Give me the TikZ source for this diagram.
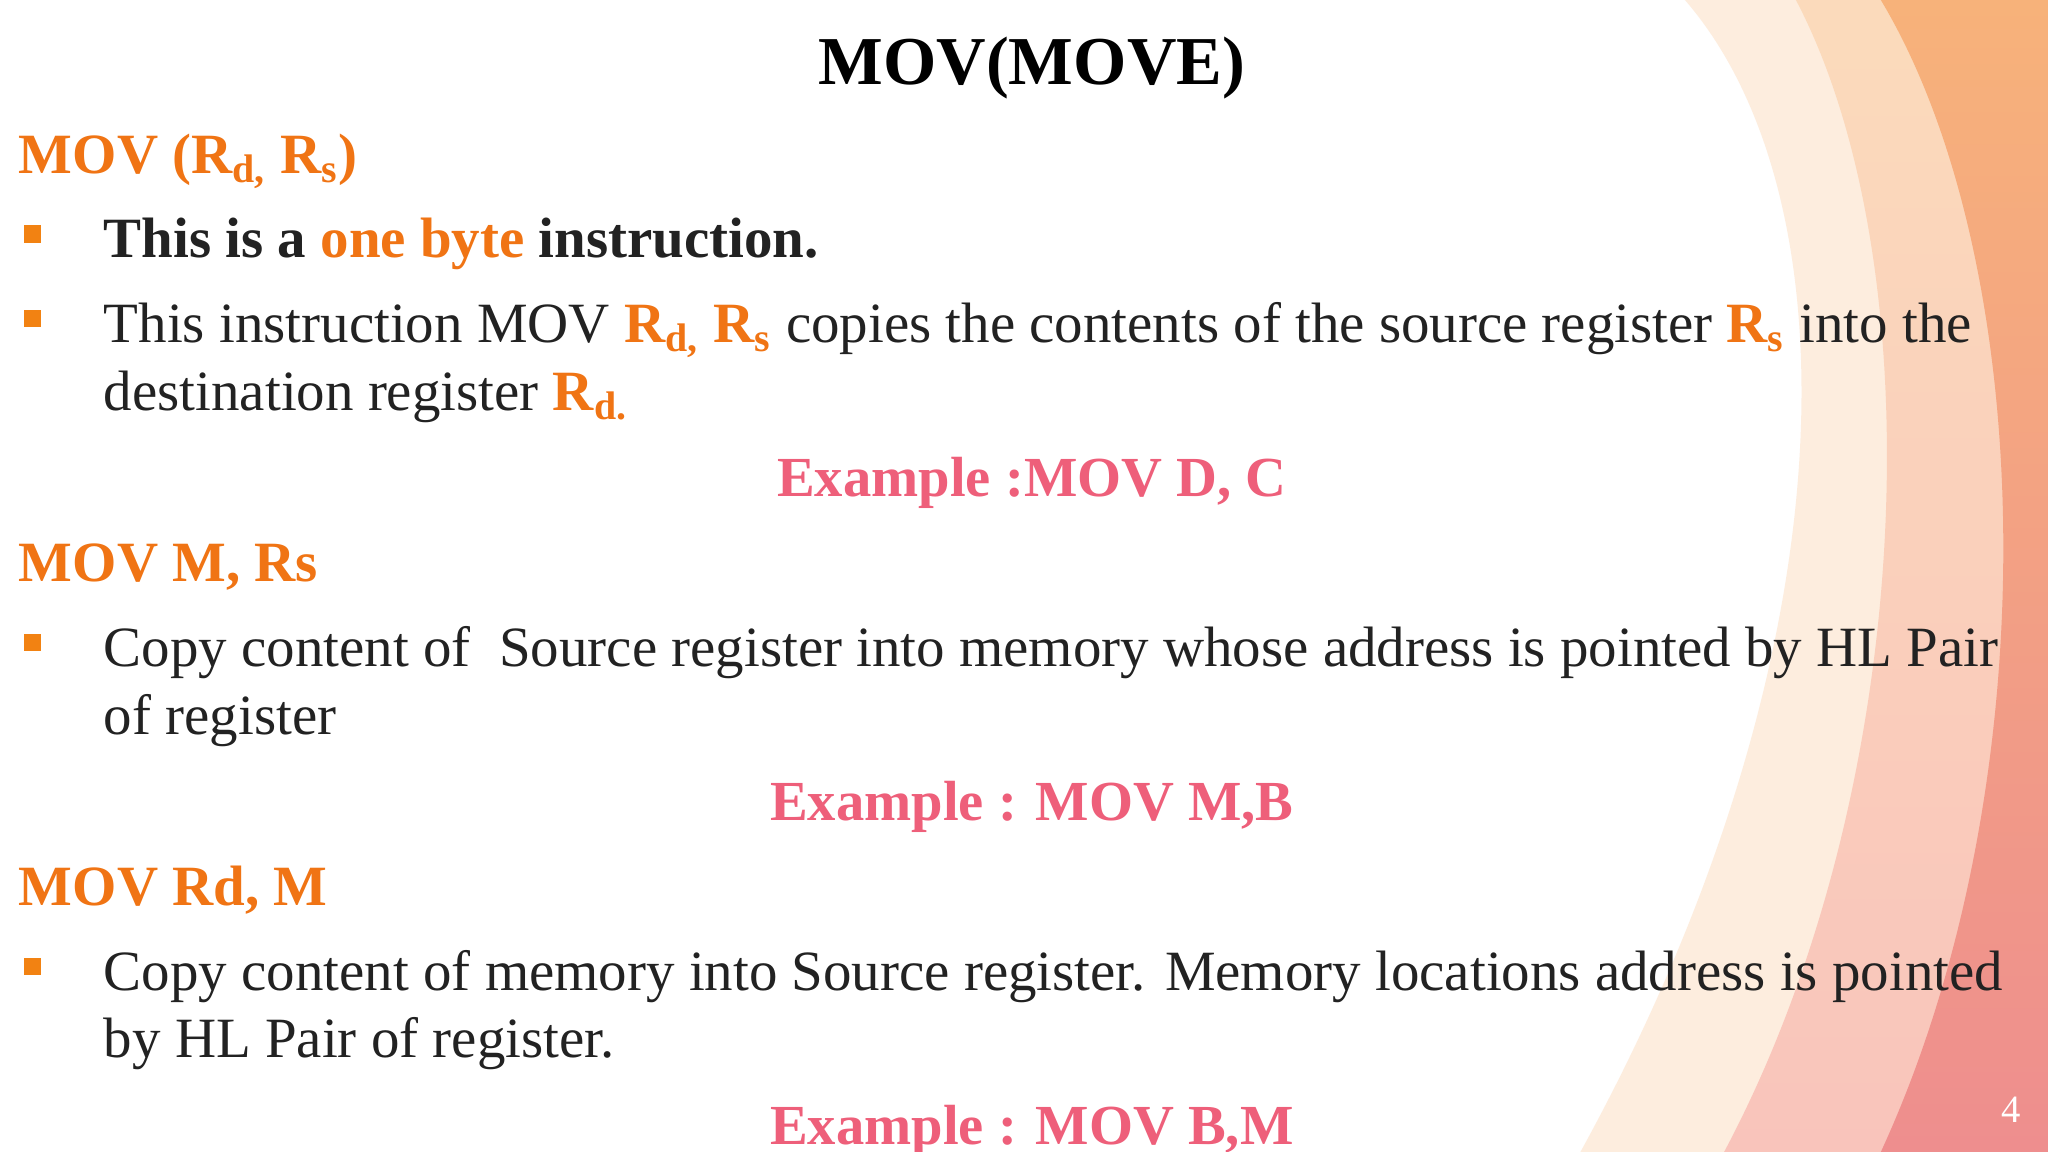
\documentclass[tikz,border=0pt]{standalone}
\usepackage{fontspec}
\setmainfont{Liberation Serif}
\definecolor{orng}{HTML}{F07414}
\definecolor{pnk}{HTML}{EE5F7A}
\definecolor{txt}{HTML}{222222}
\definecolor{peachA}{HTML}{FBD9B8}
\definecolor{peachB}{HTML}{F9C0B8}
\definecolor{orA}{HTML}{F7B27A}
\definecolor{rdB}{HTML}{EE8E8E}
\tikzset{
  body/.style={anchor=base west,font=\fontsize{16.2}{19}\selectfont,text=txt,inner sep=0},
  head/.style={anchor=base west,font=\fontsize{16.2}{19}\selectfont\bfseries,text=orng,inner sep=0},
  exmp/.style={anchor=base,font=\fontsize{16.1}{19}\selectfont\bfseries,text=pnk,inner sep=0},
  bul/.style={fill=orng!90!yellow,minimum size=5pt,inner sep=0}
}
\newcommand{\og}[1]{\textcolor{orng}{\textbf{#1}}}
\begin{document}
\begin{tikzpicture}[x=0.013061cm,y=-0.013061cm]
\useasboundingbox (0,0) rectangle (1568,882);
\fill[white] (0,0) rectangle (1568,882);
% background swooshes
\fill[peachA,opacity=0.45] (1290,0) .. controls (1420,150) and (1420,500) .. (1210,882) -- (1568,882) -- (1568,0) -- cycle;
\shade[top color=peachA,bottom color=peachB,opacity=0.9] (1375,0) .. controls (1480,200) and (1470,600) .. (1320,882) -- (1568,882) -- (1568,0) -- cycle;
\shade[top color=orA,bottom color=rdB] (1440,0) .. controls (1560,200) and (1570,600) .. (1440,882) -- (1568,882) -- (1568,0) -- cycle;
\node[text=white,font=\fontsize{11}{13}\selectfont] (pg) at (1540,850) {4};
% title
\node[anchor=base,font=\fontsize{19.5}{23}\selectfont\bfseries,text=black,inner sep=0] (title) at (790,65) {MOV(MOVE)};
\node[head] (h1) at (14,133) {MOV (R\textsubscript{d,} R\textsubscript{s})};
\node[bul] (b1) at (25,179) {};
\node[body] (t1) at (79,197) {\textbf{This is a \textcolor{orng}{one byte} instruction.}};
\node[bul] (b2) at (25,244) {};
\node[body] (t2) at (79,262) {This instruction MOV \og{R\textsubscript{d,} R\textsubscript{s}} copies the contents of the source register \og{R\textsubscript{s}} into the};
\node[body] (t2b) at (79,314) {destination register \og{R\textsubscript{d.}}};
\node[exmp] (e1) at (790,380) {Example :MOV D, C};
\node[head] (h2) at (14,445) {MOV M, Rs};
\node[bul] (b3) at (25,492) {};
\node[body] (t3) at (79,510) {Copy content of\ \ Source register into memory whose address is pointed by HL Pair};
\node[body] (t3b) at (79,562) {of register};
\node[exmp] (e2) at (790,628) {Example : MOV M,B};
\node[head] (h3) at (14,693) {MOV Rd, M};
\node[bul] (b4) at (25,740) {};
\node[body] (t4) at (79,758) {Copy content of memory into Source register. Memory locations address is pointed};
\node[body] (t4b) at (79,810) {by HL Pair of register.};
\node[exmp] (e3) at (790,876) {Example : MOV B,M};
\end{tikzpicture}
\end{document}
